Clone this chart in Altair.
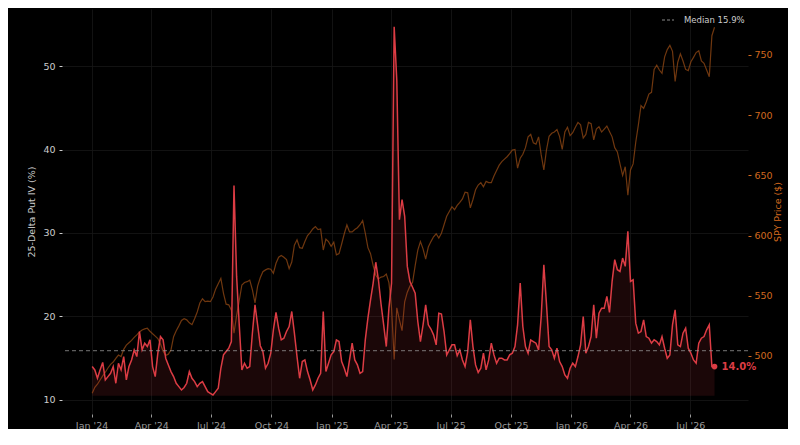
import altair as alt
import pandas as pd

# ---------------- data ----------------
START = "2024-01-02"   # first observation
STEP = "4D"            # sampling step of the series below

IV = [
    14.0, 13.6, 12.6, 13.6, 14.5, 12.4, 12.8, 13.2, 14.0, 12.0,
    14.4, 13.6, 15.2, 12.4, 14.0, 14.8, 16.0, 15.2, 18.2, 16.0,
    16.8, 16.4, 17.2, 14.0, 12.8, 15.6, 17.6, 17.2, 15.0, 14.2,
    13.4, 12.8, 12.0, 11.6, 11.2, 11.5, 12.0, 13.4, 12.6, 12.2,
    11.6, 12.0, 12.2, 11.6, 11.0, 10.8, 10.6, 11.0, 11.4, 13.8,
    15.4, 15.8, 16.2, 17.0, 35.7, 24.8, 19.0, 13.6, 14.4, 13.8,
    14.0, 18.0, 21.4, 19.0, 16.5, 15.8, 13.8, 14.4, 15.6, 18.4,
    20.5, 18.6, 17.2, 17.4, 18.2, 18.8, 20.6, 18.0, 15.2, 12.6,
    14.6, 14.8, 13.4, 12.4, 11.2, 11.8, 12.6, 13.2, 20.6, 13.4,
    14.4, 15.4, 15.8, 17.2, 17.0, 14.6, 13.8, 12.8, 14.8, 16.8,
    14.8, 14.2, 13.2, 13.4, 17.2, 19.8, 22.0, 24.0, 26.5, 24.4,
    21.5, 19.0, 16.4, 21.0, 24.0, 54.7, 48.3, 31.6, 34.0, 32.0,
    26.0, 24.2, 23.5, 22.8, 19.4, 17.0, 19.0, 21.4, 19.0, 18.5,
    17.8, 16.6, 20.4, 20.3, 18.2, 15.4, 16.0, 16.6, 16.6, 15.3,
    16.0, 14.8, 14.0, 15.8, 19.6, 16.4, 14.2, 13.3, 13.8, 15.6,
    13.6, 14.8, 16.8, 15.4, 14.4, 15.0, 15.0, 14.8, 14.8, 15.4,
    15.6, 16.4, 19.0, 24.0, 18.8, 16.4, 15.6, 17.2, 17.0, 16.8,
    16.0, 20.0, 26.2, 21.5, 16.4, 16.0, 15.0, 16.2, 14.6, 14.0,
    13.0, 12.6, 13.8, 14.4, 14.0, 15.2, 16.6, 20.0, 15.6, 16.4,
    17.6, 21.4, 17.4, 20.4, 21.0, 21.0, 22.4, 20.5, 24.2, 26.8,
    25.6, 25.4, 27.0, 26.0, 30.2, 24.2, 24.4, 19.2, 18.0, 18.2,
    19.6, 17.6, 17.4, 16.8, 17.2, 17.0, 16.6, 17.6, 16.2, 15.0,
    15.4, 19.0, 20.8, 16.6, 16.4, 18.0, 18.6, 16.2, 15.6, 14.8,
    14.4, 16.8, 17.4, 17.6, 18.4, 19.0, 14.0, 14.0,
]

SPY = [
    469.0, 474.0, 476.5, 480.0, 483.5, 486.5, 490.0, 493.0, 495.0, 498.0,
    500.8, 499.5, 505.5, 509.0, 511.0, 513.0, 515.5, 517.5, 520.0, 521.6,
    522.5, 523.0, 520.5, 518.5, 516.5, 514.5, 510.0, 504.0, 500.5, 501.5,
    505.0, 516.0, 521.0, 525.0, 529.5, 531.0, 530.0, 527.5, 526.0, 531.0,
    536.5, 544.0, 547.5, 545.1, 545.5, 545.1, 549.0, 555.5, 560.0, 564.5,
    552.0, 543.0, 542.5, 538.0, 519.0, 533.5, 546.0, 559.0, 561.0, 561.7,
    563.0, 555.0, 544.0, 558.0, 565.0, 570.0, 571.5, 572.5, 572.0, 568.7,
    577.0, 582.0, 583.5, 582.0, 580.0, 572.5, 578.0, 592.0, 596.5, 590.0,
    589.5, 595.0, 600.0, 602.5, 605.5, 607.4, 605.0, 605.5, 588.0, 597.0,
    595.0, 591.0, 594.5, 584.0, 585.0, 593.0, 601.5, 608.8, 603.0, 603.0,
    605.0, 606.5, 609.0, 612.5, 602.0, 590.0, 585.0, 575.0, 567.0, 564.0,
    565.5, 566.0, 568.0, 561.0, 540.0, 497.0, 540.0, 530.0, 521.0, 545.0,
    553.0, 558.0, 561.0, 575.0, 588.0, 595.0, 589.0, 580.5, 590.5, 595.0,
    599.0, 601.5, 598.0, 602.0, 609.0, 616.0, 620.0, 624.0, 621.5, 625.0,
    627.5, 630.5, 636.0, 635.5, 623.0, 630.0, 638.0, 642.0, 644.0, 640.6,
    645.0, 644.0, 644.0, 649.5, 654.0, 658.5, 661.5, 663.5, 665.5, 668.0,
    671.0, 671.5, 656.0, 664.2, 667.5, 673.0, 682.0, 684.0, 677.0, 676.0,
    682.0, 667.0, 654.5, 671.1, 682.5, 685.0, 686.0, 688.0, 682.2, 671.5,
    686.0, 690.0, 683.0, 685.5, 690.0, 694.0, 692.0, 681.0, 684.0, 694.0,
    693.0, 679.5, 688.5, 690.5, 686.0, 688.5, 691.0, 686.5, 682.0, 673.0,
    669.5, 659.5, 650.0, 657.2, 633.5, 654.5, 659.5, 677.5, 692.0, 708.0,
    705.7, 711.0, 717.5, 719.0, 738.0, 741.5, 737.5, 734.8, 748.5, 754.5,
    758.0, 753.0, 728.0, 744.0, 751.0, 745.0, 738.0, 737.0, 744.4, 748.0,
    752.0, 753.5, 745.0, 743.1, 737.5, 732.0, 766.0, 773.0,
]

MEDIAN = 15.9
IV_BASE = 10.5
IV_TICKS = [10, 20, 30, 40, 50]
SPY_TICKS = [500, 550, 600, 650, 700, 750]
X_TICK_MONTHS = [(2024, 1), (2024, 4), (2024, 7), (2024, 10),
                 (2025, 1), (2025, 4), (2025, 7), (2025, 10),
                 (2026, 1), (2026, 4), (2026, 7)]

IV_TITLE = "25-Delta Put IV (%)"
SPY_TITLE = "SPY Price ($)"

# ---------------- styling ----------------
FONT = "DejaVu Sans"
RED = "#dc3c44"
BROWN = "#8b4513"
ORANGE = "#d2691e"
GRID = "#171717"
LIGHT = "#cccccc"
GREY = "#9a9a9a"

dates = pd.date_range(START, periods=len(IV), freq=STEP)
df = pd.DataFrame({"date": dates.strftime("%Y-%m-%d"), "iv": IV, "spy": SPY})
last = df.tail(1).copy()
last["label"] = last["iv"].map(lambda v: f"{v:.1f}%")
legend_df = pd.DataFrame({"label": [f"Median {MEDIAN:.1f}%"]})

x_scale = alt.Scale(
    type="utc",
    domain=[alt.DateTime(year=2023, month=11, date=17, utc=True),
            alt.DateTime(year=2026, month=9, date=27, utc=True)],
)
x_axis = alt.Axis(
    values=[alt.DateTime(year=y, month=m, date=1, utc=True) for y, m in X_TICK_MONTHS],
    labelExpr='utcFormat(datum.value, "%b \'%y")', title=None,
    labelColor=GREY, tickColor=GREY, tickSize=3, labelPadding=3,
    labelFont=FONT, labelFontSize=9.5, domain=False,
    grid=True, gridColor=GRID, gridWidth=0.8,
)
x_enc = alt.X("date:T", scale=x_scale, axis=x_axis)

iv_scale = alt.Scale(domain=[8.32, 56.83], nice=False, zero=False)
iv_axis = alt.Axis(
    values=IV_TICKS, title=IV_TITLE, titleColor=LIGHT, titleFont=FONT,
    titleFontSize=9.5, titleFontWeight="normal", titlePadding=6,
    labelColor=LIGHT, labelFont=FONT, labelFontSize=9.5, labelPadding=4,
    tickColor=LIGHT, tickSize=3, domain=False,
    grid=True, gridColor=GRID, gridWidth=0.8,
)
iv_enc = alt.Y("iv:Q", scale=iv_scale, axis=iv_axis)

area = alt.Chart(df).mark_area(color=RED, opacity=0.12).encode(
    x=x_enc, y=iv_enc, y2=alt.datum(IV_BASE),
)
iv_line = alt.Chart(df).mark_line(color=RED, strokeWidth=1.5).encode(x=x_enc, y=iv_enc)
median_rule = alt.Chart(legend_df).mark_rule(
    color=GREY, strokeDash=[4, 3], strokeWidth=0.9, opacity=0.85
).encode(y=alt.YDatum(MEDIAN, scale=iv_scale, axis=iv_axis))
dot = alt.Chart(last).mark_circle(color=RED, size=32, opacity=1).encode(x=x_enc, y=iv_enc)
end_label = alt.Chart(last).mark_text(
    align="left", baseline="middle", dx=7, color=RED,
    font=FONT, fontSize=10, fontWeight="bold",
).encode(x=x_enc, y=iv_enc, text="label:N")

legend_line = alt.Chart(legend_df).mark_rule(
    color=GREY, strokeDash=[3, 2], strokeWidth=0.9
).encode(x=alt.value(600), x2=alt.value(612), y=alt.value(11))
legend_text = alt.Chart(legend_df).mark_text(
    align="left", baseline="middle", color=LIGHT, font=FONT, fontSize=8.5
).encode(x=alt.value(622), y=alt.value(11), text="label:N")

left = alt.layer(area, iv_line, median_rule, dot, end_label, legend_line, legend_text)

spy_line = alt.Chart(df).mark_line(color=BROWN, strokeWidth=1.2, opacity=0.8).encode(
    x=x_enc,
    y=alt.Y(
        "spy:Q",
        scale=alt.Scale(domain=[451.8, 788.2], nice=False, zero=False),
        axis=alt.Axis(
            orient="right", values=SPY_TICKS, title=SPY_TITLE,
            titleColor=ORANGE, titleFont=FONT, titleFontSize=9.5,
            titleFontWeight="normal", titleAngle=270, titlePadding=10,
            labelColor=ORANGE, labelFont=FONT, labelFontSize=9.5, labelPadding=3,
            tickColor=ORANGE, tickSize=3, domain=False, grid=False,
        ),
    ),
)

chart = (
    alt.layer(spy_line, left)
    .resolve_scale(y="independent")
    .properties(
        width=686, height=405, background="#000000",
        padding={"left": 54, "top": 1, "right": 40, "bottom": 15},
        autosize=alt.AutoSizeParams(type="none"),
    )
    .configure_view(stroke=None)
)

chart.save("out.html", embed_options={"renderer": "svg", "actions": False})
